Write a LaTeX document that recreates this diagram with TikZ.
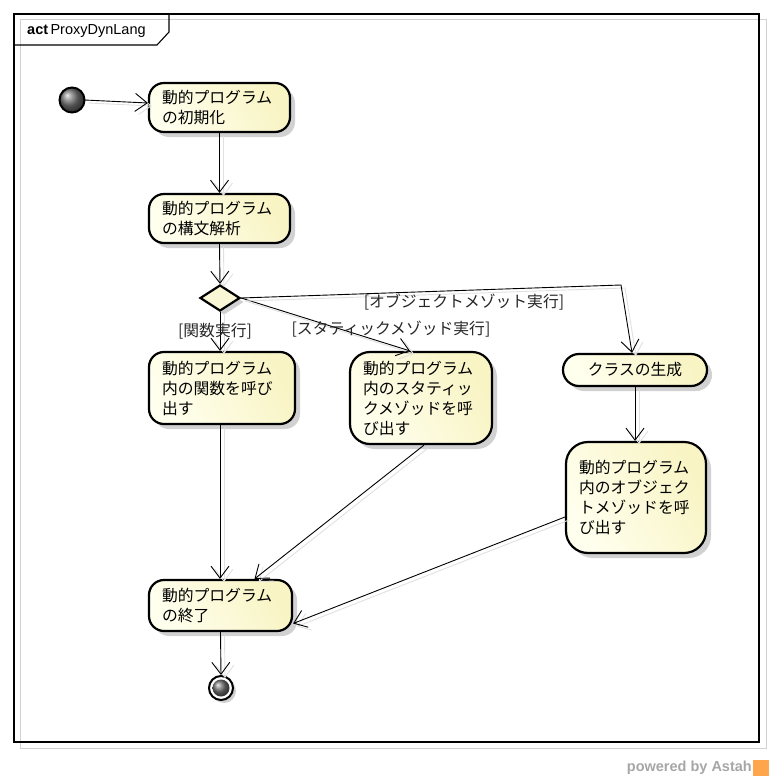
\documentclass[tikz,border=0pt]{standalone}
\usepackage{fontspec}
\setmainfont{Liberation Sans}
\newfontfamily\jp{Noto Sans CJK JP}
\usetikzlibrary{arrows.meta,shapes.geometric,shadows,calc}
\definecolor{actlight}{RGB}{255,255,238}
\definecolor{actdark}{RGB}{248,244,196}
\tikzset{
  act/.style={draw=black, line width=2.2pt, rounded corners=15pt,
    left color=actlight, right color=actdark, shading angle=120,
    font=\jp\fontsize{15.8}{20}\selectfont, align=left, inner xsep=13pt, inner ysep=0pt,
    drop shadow={shadow xshift=5pt, shadow yshift=-5pt, fill=black!18, opacity=1},
    anchor=center},
  flow/.style={draw=black, line width=0.9pt, -{Straight Barb[length=12pt,width=18pt,line width=0.9pt]},
    preaction={draw=black!12, line width=0.9pt, transform canvas={shift={(4pt,-3pt)}}}},
  guard/.style={font=\jp\fontsize{15.8}{18}\selectfont, inner sep=1pt, text=black!85},
}
\begin{document}
\begin{tikzpicture}[x=1pt,y=-1pt]
\useasboundingbox (0,0) rectangle (772,781);
% frame
\draw[black!18, line width=1pt] (20,20) rectangle (766,748);
\draw[black, line width=1.3pt] (14,14) rectangle (759,742);
\draw[black, line width=1.1pt] (14,45) -- (157,45) -- (169,32) -- (169,14);
\node[anchor=west, inner sep=0pt, font=\fontsize{14.5}{16}\selectfont] (title) at (27,31) {\textbf{act}\,ProxyDynLang};

% nodes
\shade[ball color=black!55, draw=black, line width=2pt] (72,100) circle (12.5);
\coordinate (start) at (72,100);
\node[act, minimum width=141pt, minimum height=49pt, text width=115pt] (n1) at (219.5,107.5) {動的プログラム\\の初期化};
\node[act, minimum width=141pt, minimum height=49pt, text width=115pt] (n2) at (219.5,218.5) {動的プログラム\\の構文解析};
\node[diamond, draw=black, line width=2.2pt, fill=actdark!70, minimum width=40pt, minimum height=26pt, inner sep=0pt,
      drop shadow={shadow xshift=4pt, shadow yshift=-4pt, fill=black!18, opacity=1}] (d) at (220,298) {};
\node[act, minimum width=146pt, minimum height=72pt, text width=120pt] (n4) at (222,388) {動的プログラム\\内の関数を呼び\\出す};
\node[act, minimum width=142pt, minimum height=92pt, text width=116pt, rounded corners=20pt] (n5) at (421,398) {動的プログラム\\内のスタティッ\\クメゾッドを呼\\び出す};
\node[act, minimum width=144pt, minimum height=32pt, text width=118pt, align=center, rounded corners=16pt] (n6) at (635,370) {クラスの生成};
\node[act, minimum width=140pt, minimum height=111pt, text width=114pt, rounded corners=22pt] (n7) at (636,497.5) {動的プログラム\\内のオブジェク\\トメゾッドを呼\\び出す};
\node[act, minimum width=143pt, minimum height=51pt, text width=117pt] (n8) at (220.5,605.5) {動的プログラム\\の終了};
% final
\node[circle, draw=black, line width=2pt, fill=white, minimum size=24pt, inner sep=0pt,
      drop shadow={shadow xshift=3pt, shadow yshift=-3pt, fill=black!18, opacity=1}] (fin) at (221,688) {};
\shade[ball color=black!55] (fin.center) circle (8.5);

% edges
\draw[flow] (start) ++(12.5,0) -- (n1.west |- 0,103);
\draw[flow] (n1.south) -- (n2.north);
\draw[flow] (n2.south) -- (d.north);
\draw[flow] (d.south) -- (n4.north -| d.south);
\draw[flow] (d.east) -- ([xshift=-11pt]n5.north);
\coordinate (bend) at (621,285);
\draw[flow] (d.east) -- (bend) -- ([xshift=-3pt]n6.north);
\draw[flow] (n6.south) -- (n7.north -| n6.south);
\draw[flow] (n4.south -| d.south) -- (n8.north -| d.south);
\draw[flow] ([xshift=3pt]n5.south) -- ([xshift=34pt]n8.north);
\draw[flow] (n7.west |- 0,517) -- ([yshift=-18pt]n8.east);
\draw[flow] (n8.south) -- (fin.north);

% guards
\node[guard] (g1) at (215,331) {[関数実行]};
\node[guard] (g2) at (391,329) {[スタティックメゾッド実行]};
\node[guard] (g3) at (464,302) {[オブジェクトメゾット実行]};

% watermark
\node[anchor=east, inner sep=0pt, text=black!35, font=\bfseries\fontsize{14.5}{16}\selectfont] (wm) at (752,768) {powered by Astah};
\fill[orange!70] (753,760) rectangle (769,776);
\end{tikzpicture}
\end{document}
